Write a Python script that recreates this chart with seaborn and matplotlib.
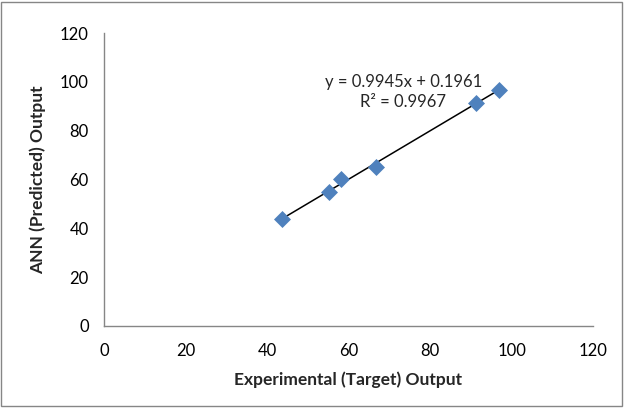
import matplotlib
matplotlib.use("Agg")
import numpy as np
import pandas as pd
import seaborn as sns
import matplotlib.pyplot as plt
from matplotlib.patches import Rectangle

# values
experimental = [43.6, 55.2, 58.1, 66.7, 91.2, 96.9]
predicted = [43.9, 54.7, 60.1, 65.0, 91.5, 96.7]
equation = "y = 0.9945x + 0.1961\nR\u00b2 = 0.9967"
ticks = [0, 20, 40, 60, 80, 100, 120]

df = pd.DataFrame({"exp": experimental, "pred": predicted})

sns.set_style("white")
plt.rcParams["font.family"] = ["Lato", "DejaVu Sans"]

fig = plt.figure(figsize=(6.24, 4.08), dpi=100)
ax = fig.add_axes([0.1667, 0.201, 0.7837, 0.718])

sns.regplot(x="exp", y="pred", data=df, ax=ax, scatter=False, ci=None,
            truncate=True, color="black", line_kws={"linewidth": 1.1})
sns.scatterplot(x="exp", y="pred", data=df, ax=ax, marker="D", s=75,
                color="#4F81BD", edgecolor="#4F81BD", linewidth=0, zorder=3)

ax.set_xlim(0, 120)
ax.set_ylim(0, 120)
ax.set_xticks(ticks)
ax.set_yticks(ticks)
ax.tick_params(axis="both", direction="out", length=5, width=1, color="#868686",
               labelsize=12, labelcolor="black", pad=6)
ax.tick_params(axis="x", pad=7)
for side in ["top", "right"]:
    ax.spines[side].set_visible(False)
for side in ["left", "bottom"]:
    ax.spines[side].set_color("#868686")
    ax.spines[side].set_linewidth(1)

ax.set_xlabel("Experimental (Target) Output", fontsize=12.5, fontweight="bold", labelpad=9)
ax.set_ylabel("ANN (Predicted) Output", fontsize=12.5, fontweight="bold", labelpad=10)

ax.text(73.4, 95.9, equation, ha="center", va="center", multialignment="center",
        fontsize=12, linespacing=1.35)

fig.patches.append(Rectangle((0.002, 0.004), 0.994, 0.992, transform=fig.transFigure,
                             fill=False, edgecolor="#868686", linewidth=1))

plt.savefig("out.png", dpi=100)
